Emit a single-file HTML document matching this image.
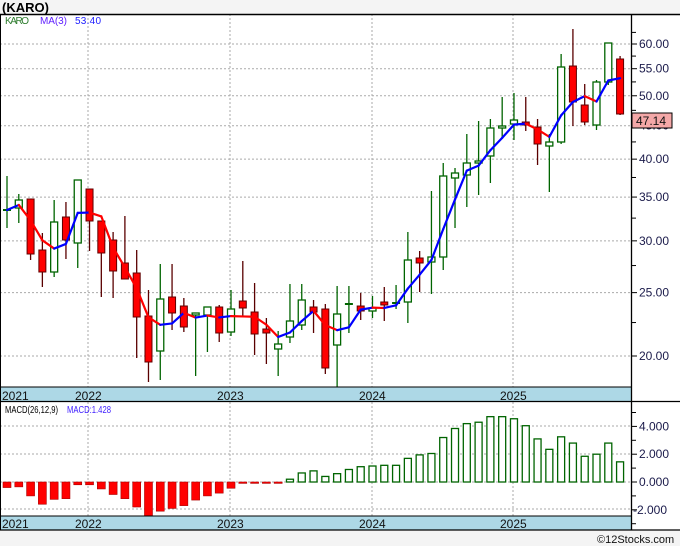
<!DOCTYPE html>
<html><head><meta charset="utf-8"><style>
body{margin:0;background:#f4f4f4;}
svg{display:block;font-family:"Liberation Sans",sans-serif;}
</style></head><body>
<svg id="s" width="680" height="546" xmlns="http://www.w3.org/2000/svg">
<rect x="0" y="0" width="680" height="546" fill="#f4f4f4"/>
<rect x="0" y="14" width="680" height="516" fill="#fff"/>
<text x="2" y="12" font-size="13" font-weight="bold" fill="#000">(KARO)</text>
<g id="g"></g>
</svg>
<script>
const NS="http://www.w3.org/2000/svg",g=document.getElementById('g');
function el(t,a,txt){const e=document.createElementNS(NS,t);for(const k in a)e.setAttribute(k,a[k]);if(txt!==undefined)e.textContent=txt;g.appendChild(e);return e;}
const Y=p=>356-284*(Math.log(p)-Math.log(20));
const P=y=>20*Math.exp((356-y)/284);
[20,25,30,35,40,45,50,55,60].forEach(p=>el('line',{x1:0,x2:631,y1:Y(p),y2:Y(p),stroke:'#aaa','stroke-dasharray':'2,2'}));
[88,230,372,513].forEach(x=>{el('line',{x1:x,x2:x,y1:14,y2:387,stroke:'#aaa','stroke-dasharray':'2,2'});el('line',{x1:x,x2:x,y1:402,y2:516,stroke:'#aaa','stroke-dasharray':'2,2'});});
[426,454,482,509].forEach(y=>el('line',{x1:0,x2:631,y1:y,y2:y,stroke:'#aaa','stroke-dasharray':'2,2'}));
const C=[
['g',210,210,176,228],['g',208,200,194,223],['r',199,254,199,260],['r',250,272,233,287],['g',272,222,200,277],['r',217,240,202,259],['g',243,180,180,268],['r',189,221,189,251],['r',221,253,221,297],['r',240,271,232,298],['r',263,279,216,279],['r',273,317,250,358],['r',316,362,290,382],['g',351,299,264,380],['r',297,313,264,330],['r',306,327,298,332],['g',315,313,313,376],['g',315,307,307,352],['r',307,333,305,342],['g',332,309,290,336],['r',301,308,261,316],['r',312,334,283,355],['r',329,333,318,364],['g',349,344,331,376],['g',337,321,284,343],['g',325,300,284,330],['r',307,312,300,333],
['r',309,368,304,374],['g',345,314,286,388],['g',304,304,286,333],['r',306,311,293,320],['g',311,308,296,318],['r',302,305,287,321],['g',303,303,285,309],['g',302,260,232,323],['r',258,263,251,292],['g',262,257,191,294],['g',257,176,163,270],['g',178,173,168,228],['g',175,163,134,207],['g',163,161,121,195],['g',156,128,119,183],['g',128,126,97,137],['g',124,120,93,140],['r',122,125,97,131],['r',127,144,119,165],['g',146,142,134,192],['g',142,67,54,144],['r',66,102,29,126],['r',105,122,84,125],['g',125,82,80,130],['g',82,43,43,85],['r',59,114,56,115]];
const X=i=>7+i*11.79;
C.forEach((c,i)=>{const x=X(i);
el('line',{x1:x,x2:x,y1:c[3],y2:c[4],stroke:c[0]=='g'?'#006400':'#5a0000','stroke-width':1.3});
const t=Math.min(c[1],c[2]),h=Math.max(1,Math.abs(c[1]-c[2]));
if(c[0]=='g'){ if(h<=1) el('line',{x1:x-4,x2:x+4,y1:t,y2:t,stroke:'#006400','stroke-width':2}); else el('rect',{x:x-3.5,y:t,width:7,height:h,fill:'#fff',stroke:'#006400','stroke-width':1.3});}
else el('rect',{x:x-3.5,y:t,width:7,height:Math.max(h,2),fill:'#f00',stroke:'#600000','stroke-width':1});
});
const cl=C.map(c=>P(c[2]));
let pts=[];for(let i=0;i<C.length;i++){const s=cl.slice(Math.max(0,i-2),i+1);pts.push([X(i),Y(s.reduce((a,b)=>a+b)/s.length)]);}
for(let i=1;i<pts.length;i++)el('line',{x1:pts[i-1][0],y1:pts[i-1][1],x2:pts[i][0],y2:pts[i][1],stroke:pts[i][1]<pts[i-1][1]?'#0000ff':'#ff0000','stroke-width':2.2,'stroke-linecap':'round'});
el('text',{x:5,y:24,'font-size':10,fill:'#2e7d2e',textLength:24},'KARO');
el('text',{x:40,y:24,'font-size':10,fill:'#6020ff',textLength:27},'MA(3)');
el('text',{x:75,y:24,'font-size':10,fill:'#2020ff',textLength:26},'53.40');
const M=[-0.4,-0.35,-1.0,-1.6,-1.25,-1.2,-0.2,-0.2,-0.5,-0.9,-1.2,-1.8,-2.6,-2.1,-1.9,-1.7,-1.3,-1.0,-0.8,-0.45,-0.1,-0.1,-0.1,-0.1,0.2,0.65,0.8,0.4,0.6,0.9,1.1,1.15,1.2,1.2,1.7,1.95,2.05,3.2,3.85,4.2,4.3,4.7,4.7,4.55,4.05,3.1,2.35,3.25,2.8,1.85,2.0,2.8,1.45];
M.forEach((v,i)=>{const x=X(i),y=482-v*13.9;
if(v<0)el('rect',{x:x-4,y:482,width:8,height:Math.min(y,516)-482,fill:'#f00',stroke:'#a00','stroke-width':0.6});
else el('rect',{x:x-3.5,y:y,width:7,height:482-y,fill:'#fff',stroke:'#006400','stroke-width':1.3});});
el('text',{x:5,y:413,'font-size':10,fill:'#000',textLength:53,lengthAdjust:'spacingAndGlyphs'},'MACD(26,12,9)');
el('text',{x:67,y:413,'font-size':10,fill:'#4020ff',textLength:44,lengthAdjust:'spacingAndGlyphs'},'MACD:1.428');
[[387,402],[516,530]].forEach(([a,b])=>{el('rect',{x:0,y:a,width:631,height:b-a,fill:'#add8e6'});el('line',{x1:0,x2:631,y1:a,y2:a,stroke:'#000'});
[['2021',2],['2022',75],['2023',217],['2024',359],['2025',500]].forEach(t=>el('text',{x:t[1],y:b-2,'font-size':12,fill:'#111'},t[0]));});
el('line',{x1:0,x2:680,y1:14.5,y2:14.5,stroke:'#000','stroke-width':1.5});
el('line',{x1:0,x2:680,y1:401.5,y2:401.5,stroke:'#000','stroke-width':1.2});
el('line',{x1:0,x2:680,y1:530,y2:530,stroke:'#000','stroke-width':1.2});
el('line',{x1:0.5,x2:0.5,y1:14,y2:530,stroke:'#000'});
el('line',{x1:631.5,x2:631.5,y1:14,y2:530,stroke:'#000','stroke-width':1.3});
[20,25,30,35,40,45,50,55,60].forEach(p=>{el('line',{x1:631,x2:637,y1:Y(p),y2:Y(p),stroke:'#000'});el('text',{x:639,y:Y(p)+4,'font-size':12,fill:'#1a1a4a'},p.toFixed(2));});
[22.5,27.5,32.5,37.5,42.5,47.5,52.5,57.5,62.5].forEach(p=>el('line',{x1:631,x2:636,y1:Y(p),y2:Y(p),stroke:'#000'}));
[[4,'4.000'],[2,'2.000'],[0,'0.000'],[-2,'-2.000']].forEach(([v,t])=>{const y=482-v*13.9;el('line',{x1:631,x2:637,y1:y,y2:y,stroke:'#000'});el('text',{x:v<0?633:639,y:y+4,'font-size':12,fill:'#1a1a4a'},t);});
[5,3,1,-1,-3].forEach(v=>{const y=482-v*13.9;el('line',{x1:631,x2:636,y1:y,y2:y,stroke:'#000'});});
el('rect',{x:632,y:113,width:40,height:15,fill:'#f4a8a8',stroke:'#000'});
el('text',{x:636,y:125,'font-size':12,fill:'#111'},'47.14');
el('text',{x:597,y:543,'font-size':11,fill:'#111'},'©12Stocks.com');
</script>
</body></html>
